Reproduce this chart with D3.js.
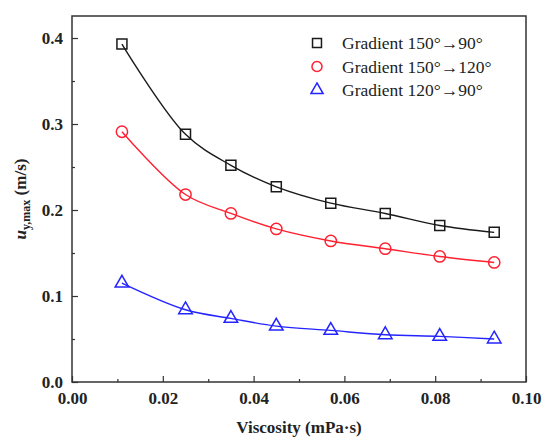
<!DOCTYPE html>
<html><head><meta charset="utf-8">
<script src="https://cdn.jsdelivr.net/npm/d3@7"></script>
<style>
html,body{margin:0;background:#fff;font-family:"Liberation Serif","Times New Roman",Tinos,serif}
svg{display:block}
.serif{font-family:"Liberation Serif","Times New Roman",Tinos,serif !important}
</style>
</head><body>
<script>
const viscosity = [0.011, 0.025, 0.035, 0.045, 0.057, 0.069, 0.081, 0.093];
const grad150to90 = [0.393, 0.288, 0.252, 0.227, 0.208, 0.196, 0.182, 0.174];
const grad150to120 = [0.291, 0.218, 0.196, 0.178, 0.164, 0.155, 0.146, 0.139];
const grad120to90 = [0.115, 0.084, 0.074, 0.065, 0.060, 0.055, 0.053, 0.050];
const seriesNames = ["Gradient 150°→90°", "Gradient 150°→120°", "Gradient 120°→90°"];
const xTicks = [0.00, 0.02, 0.04, 0.06, 0.08, 0.10];
const yTicks = [0.0, 0.1, 0.2, 0.3, 0.4];
const xMinor = [0.01, 0.03, 0.05, 0.07, 0.09];
const yMinor = [0.05, 0.15, 0.25, 0.35];

const W = 544, H = 440;
const m = {l: 72, t: 16, r: 544 - 526, b: 440 - 382};
const svg = d3.select("body").append("svg").attr("width", W).attr("height", H);
const x = d3.scaleLinear().domain([0, 0.1]).range([m.l, W - m.r]);
const y = d3.scaleLinear().domain([0, 0.4256]).range([H - m.b, m.t]);

const series = [
  {name: seriesNames[0], vals: grad150to90, color: "#1a1a1a", sym: d3.symbolSquare, size: 100},
  {name: seriesNames[1], vals: grad150to120, color: "#ff2030", sym: d3.symbolCircle, size: 100},
  {name: seriesNames[2], vals: grad120to90, color: "#2424ff", sym: d3.symbolTriangle, size: 80}
];

const axisColor = "#333";

svg.append("rect").attr("x", m.l).attr("y", m.t)
  .attr("width", W - m.r - m.l).attr("height", H - m.b - m.t)
  .attr("fill", "none").attr("stroke", axisColor).attr("stroke-width", 1.5);

const xa = svg.append("g").attr("transform", `translate(0,${H - m.b})`)
  .call(d3.axisBottom(x).tickValues(xTicks).tickFormat(d3.format(".2f")).tickSizeInner(-6).tickSizeOuter(0).tickPadding(10));
xa.append("g").call(d3.axisBottom(x).tickValues(xMinor).tickFormat("").tickSizeInner(-3).tickSizeOuter(0));
const ya = svg.append("g").attr("transform", `translate(${m.l},0)`)
  .call(d3.axisLeft(y).tickValues(yTicks).tickFormat(d3.format(".1f")).tickSizeInner(-6).tickSizeOuter(0).tickPadding(9));
ya.append("g").call(d3.axisLeft(y).tickValues(yMinor).tickFormat("").tickSizeInner(-3).tickSizeOuter(0));
svg.selectAll(".domain").remove();
svg.selectAll(".tick line").attr("stroke", axisColor).attr("stroke-width", 1.2);
svg.selectAll("g").attr("font-family", null);
svg.selectAll(".tick text").classed("serif", true).attr("font-weight", "bold")
  .attr("font-size", 17).attr("fill", "#222");

const line = d3.line().x((d, i) => x(viscosity[i])).y(d => y(d)).curve(d3.curveCatmullRom.alpha(0.5));
series.forEach(s => {
  svg.append("path").attr("d", line(s.vals)).attr("fill", "none")
    .attr("stroke", s.color).attr("stroke-width", 1.4);
  svg.append("g").selectAll("path").data(s.vals).join("path")
    .attr("transform", (d, i) => `translate(${x(viscosity[i])},${y(d)})`)
    .attr("d", d3.symbol(s.sym, s.size))
    .attr("fill", "none").attr("stroke", s.color).attr("stroke-width", 1.5);
});

series.forEach((s, i) => {
  const ly = 43 + i * 23.5;
  svg.append("path").attr("transform", `translate(317,${ly})`)
    .attr("d", d3.symbol(s.sym, s.size * 0.8)).attr("fill", "none")
    .attr("stroke", s.color).attr("stroke-width", 1.5);
  svg.append("text").classed("serif", true).attr("x", 342).attr("y", ly + 6).text(s.name)
    .attr("font-size", 17.5).attr("fill", "#222");
});

svg.append("text").classed("serif", true).attr("x", (m.l + W - m.r) / 2).attr("y", 433).attr("text-anchor", "middle")
  .attr("font-weight", "bold").attr("font-size", 17).attr("fill", "#222")
  .text("Viscosity (mPa·s)");
const yt = svg.append("text").classed("serif", true).attr("transform", `translate(26,${(m.t + H - m.b) / 2}) rotate(-90)`)
  .attr("text-anchor", "middle").attr("font-weight", "bold")
  .attr("font-size", 17).attr("fill", "#222");
yt.append("tspan").attr("font-style", "italic").text("u");
yt.append("tspan").attr("font-size", 12).attr("dy", 4).text("y,max");
yt.append("tspan").attr("dy", -4).text(" (m/s)");
</script>
</body></html>
